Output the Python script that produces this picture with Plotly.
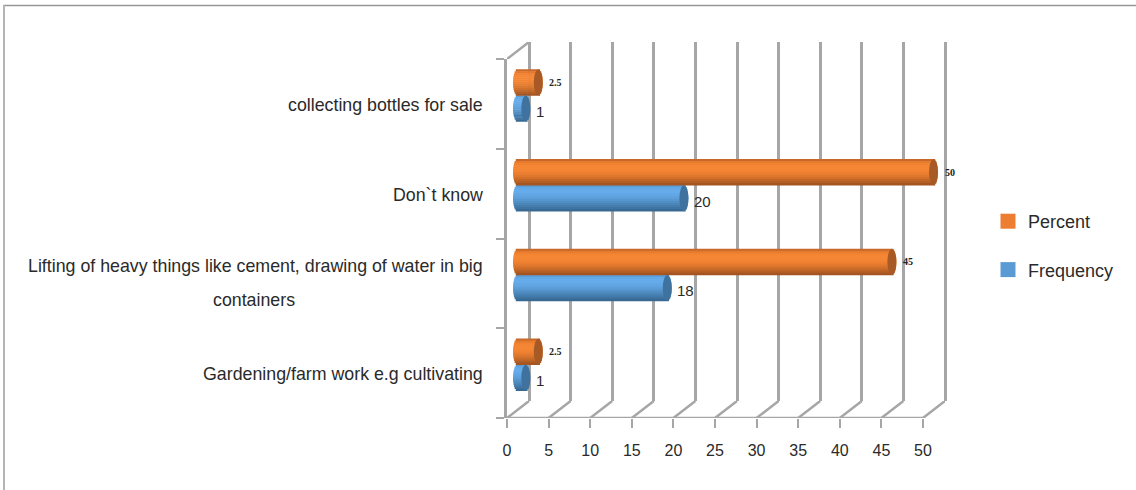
import math
import plotly.graph_objects as go

categories = ["Gardening/farm work e.g cultivating",
              "Lifting of heavy things like cement, drawing of water in big",
              "Don`t know",
              "collecting bottles for sale"]
extra_line = {1: "containers"}
percent = [2.5, 45, 50, 2.5]
frequency = [1, 18, 20, 1]
x_ticks = list(range(0, 55, 5))

W, H = 1136, 490
GRID = "#a6a6a6"
TXT = "#2a2a2a"
FONT = "Liberation Sans"
SCALE = 8.32          # px per value unit
DEPTH = 22 / SCALE    # wall depth in value units

orange_ramp = ["#c8682a", "#e57a2e", "#f08232", "#f48634", "#f58734", "#f48534", "#f08232",
               "#e97d30", "#df772d", "#d2702b", "#c46828", "#b55f25", "#a45522"]
blue_ramp = ["#5a9ed8", "#62a8e6", "#66abea", "#66abea", "#63a8e6", "#60a4e1", "#5c9ed9",
             "#5797cf", "#518ec4", "#4b86b9", "#457dae", "#3f74a2", "#396a94"]
ORANGE_CAP, BLUE_CAP = "#a85a26", "#3f729f"
ORANGE_SW, BLUE_SW = "#ed7d31", "#5b9bd5"


def fx(p):
    return p / W


def fy(p):
    return 1 - p / H


fig = go.Figure()

# cylinder geometry (pixel sizes expressed in axis units)
RX = 4.5 / SCALE
BAR_H = 26 / 89.75


def add_cylinder(values, low, ramp, cap):
    n = len(ramp)
    h = BAR_H / n
    for j, col in enumerate(ramp):
        mid = (j + 0.5) / n * 2 - 1       # -1 at top of the bar, +1 at bottom
        k = RX * math.sqrt(max(0, 1 - mid * mid))
        fig.add_trace(go.Bar(
            y=categories,
            x=[v + 2 * k for v in values],
            base=[-k] * len(values),
            orientation="h",
            width=h * 1.25,
            offset=low + BAR_H - (j + 1) * h - h * 0.125,
            marker=dict(color=col, line=dict(width=0)),
            xaxis="x3", yaxis="y3",
            showlegend=False, hoverinfo="skip"))


add_cylinder(frequency, -BAR_H, blue_ramp, BLUE_CAP)
add_cylinder(percent, 0, orange_ramp, ORANGE_CAP)

# legend entries
for name, col in (("Percent", ORANGE_SW), ("Frequency", BLUE_SW)):
    fig.add_trace(go.Scatter(x=[None], y=[None], mode="markers", name=name, legendgroup=name,
                             xaxis="x", yaxis="y",
                             marker=dict(symbol="square", size=15, color=col)))

# floor diagonals plus front axis line, and the top edge of the side wall
line = dict(color=GRID, width=2.5)
floor_x, floor_y = [], []
for v in x_ticks:
    floor_x += [v, v + DEPTH, None]
    floor_y += [0, 1, None]
floor_x += [x_ticks[0], x_ticks[-1]]
floor_y += [0, 0]
fig.add_trace(go.Scatter(x=floor_x, y=floor_y, mode="lines", line=line, xaxis="x", yaxis="y4",
                         showlegend=False, hoverinfo="skip", cliponaxis=False))
fig.add_trace(go.Scatter(x=[x_ticks[0], x_ticks[0] + DEPTH], y=[0, 1], mode="lines", line=line,
                         xaxis="x", yaxis="y5", showlegend=False, hoverinfo="skip", cliponaxis=False))
# keeps the back-wall axes alive
fig.add_trace(go.Scatter(x=[None], y=[None], xaxis="x2", yaxis="y2", showlegend=False, hoverinfo="skip"))

# data labels
ann = []
for i, v in enumerate(percent):
    ann.append(dict(x=v, y=i + BAR_H / 2, xref="x3", yref="y3", text=f"<b>{v:g}</b>",
                    showarrow=False, xanchor="left", xshift=9,
                    font=dict(family="Liberation Serif", size=10, color="#222222")))
for i, v in enumerate(frequency):
    ann.append(dict(x=v, y=i - BAR_H / 2, xref="x3", yref="y3", text=f"{v:g}",
                    showarrow=False, xanchor="left", xshift=8, yshift=-3,
                    font=dict(family=FONT, size=15, color=TXT)))

# category labels
LABEL = dict(family=FONT, size=17.8, color=TXT)
for i, c in enumerate(categories):
    if i in extra_line:
        ann.append(dict(x=fx(484.5), y=i, xref="paper", yref="y", text=c, showarrow=False,
                        xanchor="right", yshift=17, font=LABEL))
        ann.append(dict(x=fx(254), y=i, xref="paper", yref="y", text=extra_line[i], showarrow=False,
                        xanchor="center", yshift=-17, font=LABEL))
    else:
        ann.append(dict(x=fx(484.5), y=i, xref="paper", yref="y", text=c, showarrow=False,
                        xanchor="right", yshift=-1, font=LABEL))

fig.update_layout(
    template=None,
    width=W, height=H, margin=dict(l=0, r=0, t=0, b=0, autoexpand=False),
    paper_bgcolor="white", plot_bgcolor="rgba(0,0,0,0)",
    barmode="overlay", font=dict(family=FONT, color=TXT),
    annotations=ann,
    legend=dict(x=fx(988), y=fy(203), xanchor="left", yanchor="top", tracegroupgap=22,
                bgcolor="rgba(0,0,0,0)", font=dict(family=FONT, size=18, color=TXT)),
    # front plane: value axis and category ticks
    xaxis=dict(domain=[fx(507), fx(507 + (50 + DEPTH) * SCALE)], range=[0, 50 + DEPTH], tickvals=x_ticks,
               showgrid=False, zeroline=False, showline=False, ticks="outside", ticklen=9,
               tickwidth=1.5, tickcolor=GRID, ticklabelstandoff=9, automargin=False,
               tickfont=dict(family=FONT, size=16, color=TXT), anchor="y"),
    yaxis=dict(domain=[fy(418), fy(59)], type="category", categoryorder="array",
               categoryarray=categories, range=[-0.5, 3.5], tickson="boundaries",
               ticks="outside", ticklen=8, tickwidth=1.5, tickcolor=GRID, automargin=False,
               showticklabels=False, showgrid=False, zeroline=False,
               showline=True, linecolor=GRID, linewidth=2.5, anchor="x"),
    # back wall gridlines (range padded so the end lines are kept)
    xaxis2=dict(domain=[fx(529 - SCALE), fx(529 + 51 * SCALE)], range=[-1, 51], tickvals=x_ticks,
                showgrid=True, gridcolor=GRID, gridwidth=2.5, zeroline=False, automargin=False,
                showticklabels=False, ticks="", anchor="y2"),
    yaxis2=dict(domain=[fy(401), fy(42)], range=[0, 1], showgrid=False, zeroline=False,
                automargin=False, showticklabels=False, ticks="", anchor="x2"),
    # bars sit midway between the front and back planes
    xaxis3=dict(domain=[fx(517.5 - 2 * SCALE), fx(517.5 + 53 * SCALE)], range=[-2, 53],
                visible=False, anchor="y3"),
    yaxis3=dict(domain=[fy(409.5), fy(50.5)], type="category", categoryorder="array",
                categoryarray=categories, range=[-0.5, 3.5], visible=False, anchor="x3"),
    # floor and top edge strips share the front value axis
    yaxis4=dict(domain=[fy(418), fy(401)], range=[0, 1], visible=False, anchor="x"),
    yaxis5=dict(domain=[fy(59), fy(42)], range=[0, 1], visible=False, anchor="x"),
)

# cylinder end caps
for values, low, cap in ((frequency, -BAR_H, BLUE_CAP), (percent, 0, ORANGE_CAP)):
    for i, v in enumerate(values):
        fig.add_shape(type="circle", xref="x3", yref="y3", xsizemode="pixel",
                      xanchor=v, x0=-4.5, x1=4.5, y0=i + low, y1=i + low + BAR_H,
                      fillcolor=cap, line=dict(width=0), layer="above")

# outer picture border
fig.add_shape(type="line", xref="paper", yref="paper", x0=fx(3), x1=1, y0=fy(5.5), y1=fy(5.5),
              line=dict(color="#969696", width=1.5))
fig.add_shape(type="line", xref="paper", yref="paper", x0=fx(4), x1=fx(4), y0=0, y1=fy(5),
              line=dict(color="#b4b4b4", width=2))

fig.write_html("out.html", config={"displayModeBar": False},
               post_script="document.body.style.margin='0';document.body.style.overflow='hidden';")
